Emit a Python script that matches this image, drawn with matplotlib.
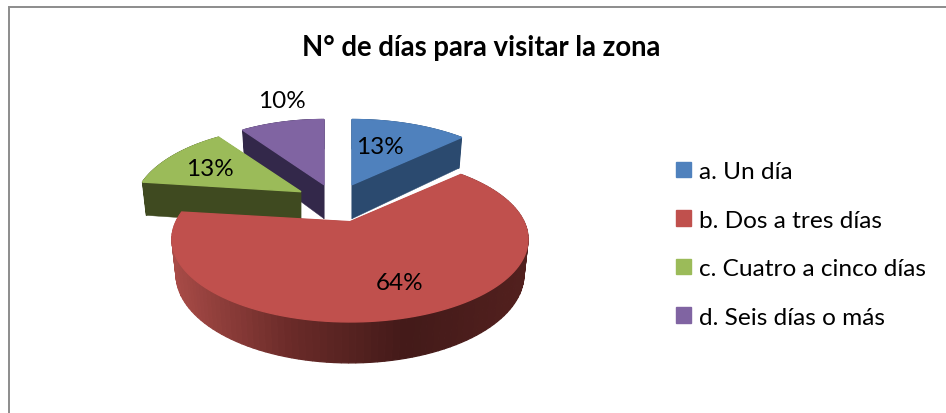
import numpy as np
import matplotlib
matplotlib.use('Agg')
import matplotlib.pyplot as plt
from matplotlib.patches import Patch
from matplotlib.colors import LinearSegmentedColormap

plt.rcParams['font.family'] = ['Lato', 'DejaVu Sans']

categories = ['a. Un día', 'b. Dos a tres días', 'c. Cuatro a cinco días', 'd. Seis días o más']
values = [13, 64, 13, 10]
top_colors = ['#4F81BD', '#C0504D', '#9BBB59', '#8064A2']
wall_colors = ['#2B4A6F', '#7A302E', '#3F4A20', '#33284A']
# pixel shift and half width of each exploded slice
shifts = [(2, -37), (0, 0), (-49, -30), (-26, -37)]
widths = [172, 174, 164, 162]
label_pos = [(380, 148), (400, 284), (210, 170), (282, 102)]
draw_order = [3, 0, 2, 1]

cx, cy = 350, 222.7
persp = 0.212
depth = 34

red_wall = LinearSegmentedColormap.from_list('red_wall', ['#A84B47', '#6B2B29', '#431A19', '#52201E'])


def top_xy(theta, w, dx=0, dy=0):
    s = 1 / (1 + persp * np.cos(theta))
    return cx + dx + w * np.sin(theta) * s, cy + dy - 79 * np.cos(theta) * s


def bottom_xy(theta, w, dx=0, dy=0):
    s = 1 / (1 + persp * np.cos(theta))
    return cx + dx + (w - 4) * np.sin(theta) * s, cy + dy + depth - 84.5 * np.cos(theta) * s


fig = plt.figure(figsize=(9.46, 4.14), dpi=100)
ax = fig.add_axes([0, 0, 1, 1])
ax.set_xlim(0, 946)
ax.set_ylim(414, 0)
ax.axis('off')

# chart frame, only the top and left sides show in the crop
ax.plot([8.5, 8.5, 946], [414, 7.5, 7.5], color='#8C8C8C', lw=1.4, solid_joinstyle='miter')

edges = np.cumsum([0] + values) / sum(values) * 2 * np.pi

for i in draw_order:
    dx, dy = shifts[i]
    th = np.linspace(edges[i], edges[i + 1], 120)
    tx, ty = top_xy(th, widths[i], dx, dy)
    bx, by = bottom_xy(th, widths[i], dx, dy)
    ax0, ay0 = cx + dx, cy + dy
    # radial walls
    for k in (0, -1):
        ax.fill([ax0, tx[k], bx[k], ax0], [ay0, ty[k], by[k], ay0 + depth],
                color=wall_colors[i], lw=0.3)
    # outer wall
    for j in range(len(th) - 1):
        if i == 1:
            c = red_wall(np.clip((tx[j] - 172) / 356, 0, 1))
        else:
            c = wall_colors[i]
        ax.fill([tx[j], tx[j + 1], bx[j + 1], bx[j]], [ty[j], ty[j + 1], by[j + 1], by[j]],
                color=c, lw=0.9)
    # top face
    ax.fill(np.r_[ax0, tx], np.r_[ay0, ty], color=top_colors[i], lw=1.0)

for v, (lx, ly) in zip(values, label_pos):
    ax.text(lx, ly, f'{v}%', ha='center', va='center', fontsize=17.5, color='black')

ax.text(481, 48, 'N° de días para visitar la zona', ha='center', va='center',
        fontsize=19.8, fontweight='bold', color='black')

handles = [Patch(color=c, label=n) for c, n in zip(top_colors, categories)]
ax.legend(handles=handles, loc='upper left', bbox_to_anchor=(676, 162), bbox_transform=ax.transData,
          frameon=False, fontsize=17.6, borderpad=0, borderaxespad=0, handlelength=0.61,
          handleheight=0.61, handletextpad=0.33, labelspacing=1.13)

fig.savefig('out.png', dpi=100)
